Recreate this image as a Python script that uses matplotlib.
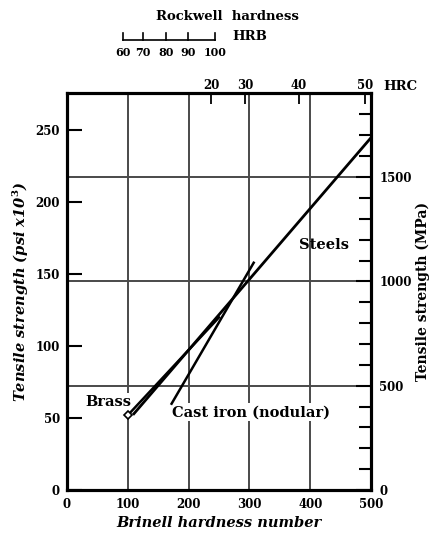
import matplotlib
matplotlib.use("Agg")
import matplotlib.pyplot as plt
import matplotlib.transforms as mtransforms

plt.rcParams['font.family'] = ['DejaVu Serif', 'Liberation Serif']
plt.rcParams['font.weight'] = 'bold'
plt.rcParams['mathtext.fontset'] = 'dejavuserif'

# ---- data ----
brinell_ticks = [0, 100, 200, 300, 400, 500]
psi_ticks = [0, 50, 100, 150, 200, 250]
mpa_labels = [0, 500, 1000, 1500]
mpa_minor = [100, 200, 300, 400, 600, 700, 800, 900, 1100, 1200, 1300, 1400, 1600, 1700, 1800]
grid_bhn = [100, 200, 300, 400]
grid_mpa = [500, 1000, 1500]

steel_bhn = [110, 500]
steel_psi = [53, 245]
brass_bhn = [100, 250]
brass_psi = [52, 120]
castiron_bhn = [172, 307]
castiron_psi = [60, 158]

hrc_values = [20, 30, 40, 50]
hrc_bhn = [237, 293, 381, 490]
hrb_values = [60, 70, 80, 90, 100]
hrb_bhn = [92, 125, 163, 199, 243]

MPA_PER_KSI = 6.895
XMAX = 500
YMAX = 276

fig = plt.figure(figsize=(4.32, 5.42), dpi=100)
ax = fig.add_axes([0.155, 0.0959, 0.704, 0.7325])
ax.set_xlim(0, XMAX)
ax.set_ylim(0, YMAX)

gridc = '#4a4a4a'
for b in grid_bhn:
    ax.axvline(b, color=gridc, lw=1.4, zorder=1)
for m in grid_mpa:
    ax.axhline(m / MPA_PER_KSI, color=gridc, lw=1.4, zorder=1)

ax.plot(steel_bhn, steel_psi, color='black', lw=2.0, zorder=3)
ax.plot(brass_bhn, brass_psi, color='black', lw=1.8, zorder=3)
ax.plot(castiron_bhn, castiron_psi, color='black', lw=1.8, zorder=3)
ax.plot([brass_bhn[0]], [brass_psi[0]], marker='D', ms=4, mfc='white', mec='black', mew=1.2, zorder=4)

tb = dict(facecolor='white', edgecolor='none', pad=1.5)
ax.text(30, 61, 'Brass', fontsize=10.5, fontweight='bold', ha='left', va='center', bbox=tb, zorder=2)
ax.text(173, 54, 'Cast iron (nodular)', fontsize=10.5, fontweight='bold', ha='left', va='center', bbox=tb, zorder=2)
ax.text(382, 170, 'Steels', fontsize=10.5, fontweight='bold', ha='left', va='center', zorder=2)

for s in ax.spines.values():
    s.set_linewidth(2.2)

ax.set_xticks(brinell_ticks)
ax.set_xticklabels([str(v) for v in brinell_ticks])
ax.set_yticks(psi_ticks)
ax.set_yticklabels([str(v) for v in psi_ticks])
ax.tick_params(axis='x', length=0, labelsize=8.5, pad=6)
ax.tick_params(axis='y', direction='in', length=11, width=1.5, labelsize=8.5, pad=5)
for lab in ax.get_xticklabels() + ax.get_yticklabels():
    lab.set_fontweight('bold')

ax.set_xlabel('Brinell hardness number', fontsize=10.5, fontstyle='italic', fontweight='bold', labelpad=3)
ax.set_ylabel('Tensile strength (psi x10$^3$)', fontsize=10.5, fontstyle='italic', fontweight='bold', labelpad=3)

# right axis MPa
axr = ax.twinx()
axr.set_ylim(0, YMAX * MPA_PER_KSI)
axr.set_yticks(mpa_labels)
axr.set_yticklabels([str(v) for v in mpa_labels])
axr.set_yticks(mpa_minor, minor=True)
axr.tick_params(axis='y', which='major', direction='in', length=11, width=1.5, labelsize=8.5, pad=6)
axr.tick_params(axis='y', which='minor', direction='in', length=9, width=1.5)
for lab in axr.get_yticklabels():
    lab.set_fontweight('bold')
axr.set_ylabel('Tensile strength (MPa)', fontsize=10, fontweight='bold', labelpad=3)
for s in axr.spines.values():
    s.set_linewidth(2.2)

# top axis HRC
axt = ax.twiny()
axt.set_xlim(0, XMAX)
axt.set_xticks(hrc_bhn)
axt.set_xticklabels([str(v) for v in hrc_values])
axt.tick_params(axis='x', direction='in', length=8, width=1.3, labelsize=8.5, pad=1)
for lab in axt.get_xticklabels():
    lab.set_fontweight('bold')
for s in axt.spines.values():
    s.set_linewidth(2.2)
fig.text(383 / 432, 1 - 86 / 542, 'HRC', fontsize=9.5, fontweight='bold', ha='left', va='center')

# HRB ruler above the plot
tr = mtransforms.blended_transform_factory(ax.transData, fig.transFigure)
y_base = 1 - 40 / 542
y_tick = 1 - 33 / 542
ax.plot([hrb_bhn[0], hrb_bhn[-1]], [y_base, y_base], color='black', lw=1.2, transform=tr, clip_on=False)
for b, v in zip(hrb_bhn, hrb_values):
    ax.plot([b, b], [y_base, y_tick], color='black', lw=1.2, transform=tr, clip_on=False)
    ax.text(b, 1 - 52 / 542, str(v), fontsize=8, fontweight='bold', ha='center', va='center', transform=tr)
fig.text(232 / 432, 1 - 37 / 542, 'HRB', fontsize=9.5, fontweight='bold', ha='left', va='center')
fig.text(227 / 432, 1 - 17 / 542, 'Rockwell  hardness', fontsize=9.5, fontweight='bold', ha='center', va='center')

fig.savefig('out.png', dpi=100)
